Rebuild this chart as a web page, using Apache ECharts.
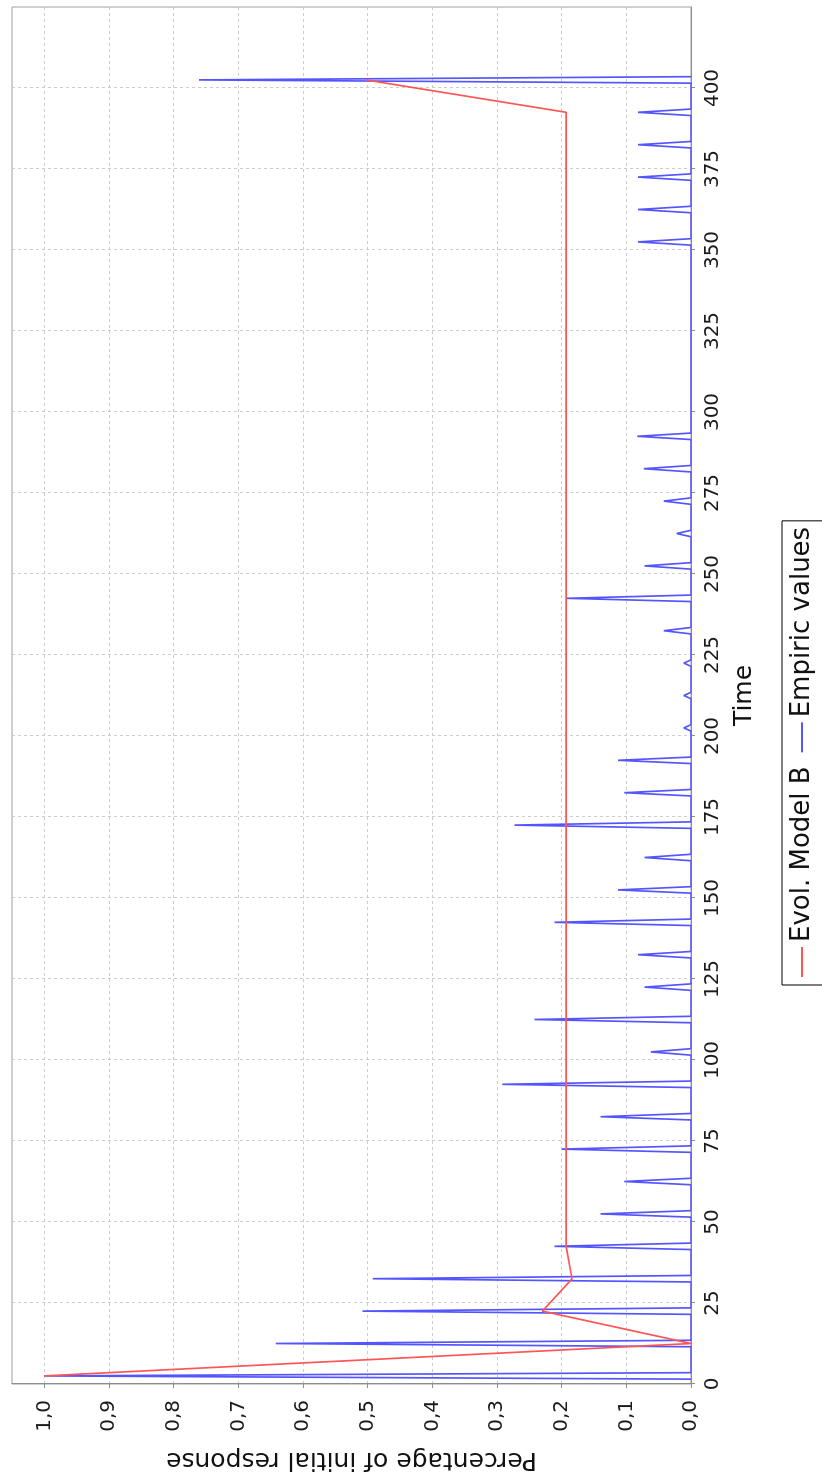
<!DOCTYPE html>
<html>
<head>
<meta charset="utf-8">
<script src="https://cdn.jsdelivr.net/npm/echarts@6/dist/echarts.min.js"></script>
<style>
html,body{margin:0;padding:0;background:#fff;overflow:hidden;width:822px;height:1480px;}
#c{position:absolute;left:0;top:0;width:1480px;height:822px;transform-origin:0 0;transform:translate(0px,1480px) rotate(-90deg);}
</style>
</head>
<body>
<div id="c"></div>
<script>
// ---- data ----
const seriesNames = ['Evol. Model B', 'Empiric values'];
const modelTimes = [2.5,12.5,22.5,32.5,42.5,52.5,62.5,72.5,82.5,92.5,102.5,112.5,122.5,132.5,142.5,152.5,162.5,172.5,182.5,192.5,202.5,212.5,222.5,232.5,242.5,252.5,262.5,272.5,282.5,292.5,302.5,312.5,322.5,332.5,342.5,352.5,362.5,372.5,382.5,392.5,402.5];
const modelValues = [1.0,0.0,0.23,0.184,0.193,0.193,0.193,0.193,0.193,0.193,0.193,0.193,0.193,0.193,0.193,0.193,0.193,0.193,0.193,0.193,0.193,0.193,0.193,0.193,0.193,0.193,0.193,0.193,0.193,0.193,0.193,0.193,0.193,0.193,0.193,0.193,0.193,0.193,0.193,0.193,0.503];
// empiric: peak observation times and values; observations one time unit before/after each peak are zero
const empPeakTimes = [2.5,12.5,22.5,32.5,42.5,52.5,62.5,72.5,82.5,92.5,102.5,112.5,122.5,132.5,142.5,152.5,162.5,172.5,182.5,192.5,202.5,212.5,222.5,232.5,242.5,252.5,262.5,272.5,282.5,292.5,302.5,312.5,322.5,332.5,342.5,352.5,362.5,372.5,382.5,392.5,402.5];
const empPeakValues = [1.0,0.642,0.508,0.492,0.211,0.14,0.103,0.2,0.14,0.292,0.062,0.242,0.072,0.082,0.211,0.113,0.072,0.273,0.103,0.113,0.011,0.011,0.011,0.042,0.192,0.072,0.022,0.042,0.073,0.083,0,0,0,0,0,0.082,0.082,0.082,0.082,0.082,0.761];
const empBaseValue = 0;
const timeTicks = [0,25,50,75,100,125,150,175,200,225,250,275,300,325,350,375,400];
const pctTicks = [0,0.1,0.2,0.3,0.4,0.5,0.6,0.7,0.8,0.9,1.0];
const xTitle = 'Time';
const yTitle = 'Percentage of initial response';

// ---- build ----
const modelData = modelTimes.map((t, i) => [t, modelValues[i]]);
const empData = [];
empPeakTimes.forEach((t, i) => {
  empData.push([t - 1, empBaseValue]);
  empData.push([t, empPeakValues[i]]);
  empData.push([t + 1, empBaseValue]);
});

const FONT = 'DejaVu Sans';
const chart = echarts.init(document.getElementById('c'), null, {renderer: 'canvas'});
chart.setOption({
  animation: false,
  backgroundColor: '#ffffff',
  grid: {left: 90, right: 7, top: 12, bottom: 131, show: true, borderColor: '#a0a0a0', borderWidth: 1, backgroundColor: '#ffffff'},
  legend: {
    left: 495, top: 782,
    orient: 'horizontal',
    icon: 'rect', itemWidth: 30, itemHeight: 2, itemGap: 14,
    padding: [7, 6, 8, 8],
    borderColor: '#000', borderWidth: 1,
    textStyle: {fontFamily: FONT, fontSize: 26, color: '#111'},
    data: seriesNames
  },
  xAxis: {
    type: 'value', min: 0, max: 425, interval: 25,
    name: xTitle, nameLocation: 'middle', nameGap: 41,
    nameTextStyle: {fontFamily: FONT, fontSize: 25, color: '#111'},
    axisLine: {show: true, onZero: false, lineStyle: {color: '#8c8c8c', width: 1}},
    axisTick: {show: true, length: 4, lineStyle: {color: '#8c8c8c'}, customValues: timeTicks},
    axisLabel: {fontFamily: FONT, fontSize: 20, color: '#1a1a1a', margin: 12, customValues: timeTicks},
    splitLine: {show: true, lineStyle: {color: '#cccccc', width: 1, type: [3, 3]}}
  },
  yAxis: {
    type: 'value', min: 0, max: 1.05, interval: 0.1,
    name: yTitle, nameLocation: 'middle', nameRotate: 90, nameGap: 63,
    nameTextStyle: {fontFamily: FONT, fontSize: 25, color: '#111'},
    axisLine: {show: true, onZero: false, lineStyle: {color: '#8c8c8c', width: 1}},
    axisTick: {show: true, length: 4, lineStyle: {color: '#8c8c8c'}, customValues: pctTicks},
    axisLabel: {fontFamily: FONT, fontSize: 20, color: '#1a1a1a', margin: 16, customValues: pctTicks,
      formatter: v => v.toFixed(1).replace('.', ',')},
    splitLine: {show: true, lineStyle: {color: '#cccccc', width: 1, type: [3, 3]}}
  },
  series: [
    {name: seriesNames[1], type: 'line', data: empData, showSymbol: false, symbol: 'none',
     lineStyle: {color: '#5555ff', width: 1.7}, itemStyle: {color: '#5555ff'}, z: 2},
    {name: seriesNames[0], type: 'line', data: modelData, showSymbol: false, symbol: 'none',
     lineStyle: {color: '#ff5555', width: 1.7}, itemStyle: {color: '#ff5555'}, z: 3}
  ]
});
</script>
</body>
</html>
